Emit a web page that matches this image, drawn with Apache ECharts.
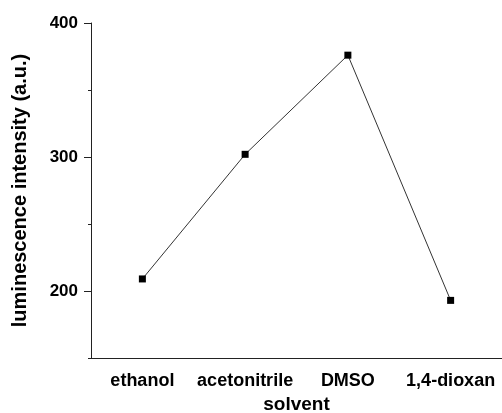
<!DOCTYPE html>
<html>
<head>
<meta charset="utf-8">
<script src="https://cdn.jsdelivr.net/npm/echarts@6/dist/echarts.min.js"></script>
<style>
  html, body { margin: 0; padding: 0; background: #fff; }
  #chart { width: 502px; height: 413px; }
</style>
</head>
<body>
<div id="chart"></div>
<script>
// data
const solvents = ['ethanol', 'acetonitrile', 'DMSO', '1,4-dioxan'];
const intensity = [209, 302, 376, 193];
const yLabels = [200, 300, 400];
const yMinorTicks = [150, 250, 350];

const font = 'Liberation Sans, Arial, sans-serif';
const axisColor = '#222';

const chart = echarts.init(document.getElementById('chart'));

chart.setOption({
    animation: false,
    grid: { left: 91, top: 23, right: 0, bottom: 55, outerBoundsMode: 'none', containLabel: false },
    xAxis: [{
        type: 'category',
        data: solvents,
        boundaryGap: true,
        axisLine: { lineStyle: { color: axisColor, width: 1 } },
        axisTick: { alignWithLabel: true, interval: 0, length: 6, lineStyle: { color: axisColor } },
        axisLabel: { interval: 0, color: '#000', fontFamily: font, fontWeight: 'bold', fontSize: 18, margin: 14 },
        name: 'solvent',
        nameLocation: 'middle',
        nameGap: 35,
        nameTextStyle: { color: '#000', fontFamily: font, fontWeight: 'bold', fontSize: 19 },
        splitLine: { show: false }
    }, {
        // short ticks on the category borders
        type: 'category',
        data: solvents,
        boundaryGap: true,
        axisLine: { show: false },
        axisTick: { alignWithLabel: false, interval: 0, length: 3, lineStyle: { color: axisColor } },
        axisLabel: { show: false },
        splitLine: { show: false }
    }],
    yAxis: [{
        // labels and long ticks
        type: 'value',
        min: 150,
        max: 400,
        axisLine: { show: true, lineStyle: { color: axisColor, width: 1 } },
        axisTick: { show: true, length: 7, customValues: yLabels, lineStyle: { color: axisColor } },
        axisLabel: {
            customValues: yLabels,
            color: '#000', fontFamily: font, fontWeight: 'bold', fontSize: 17, margin: 13
        },
        splitLine: { show: false },
        name: 'luminescence intensity (a.u.)',
        nameLocation: 'middle',
        nameGap: 61,
        nameTextStyle: { color: '#000', fontFamily: font, fontWeight: 'bold', fontSize: 20 }
    }, {
        // short ticks in between
        type: 'value',
        position: 'left',
        min: 150,
        max: 400,
        axisLine: { show: false },
        axisTick: { show: true, length: 3, customValues: yMinorTicks, lineStyle: { color: axisColor } },
        axisLabel: { show: false },
        splitLine: { show: false }
    }],
    series: [{
        type: 'line',
        data: intensity,
        symbol: 'rect',
        symbolSize: 7,
        itemStyle: { color: '#000' },
        lineStyle: { color: '#333', width: 1 }
    }]
});
</script>
</body>
</html>
